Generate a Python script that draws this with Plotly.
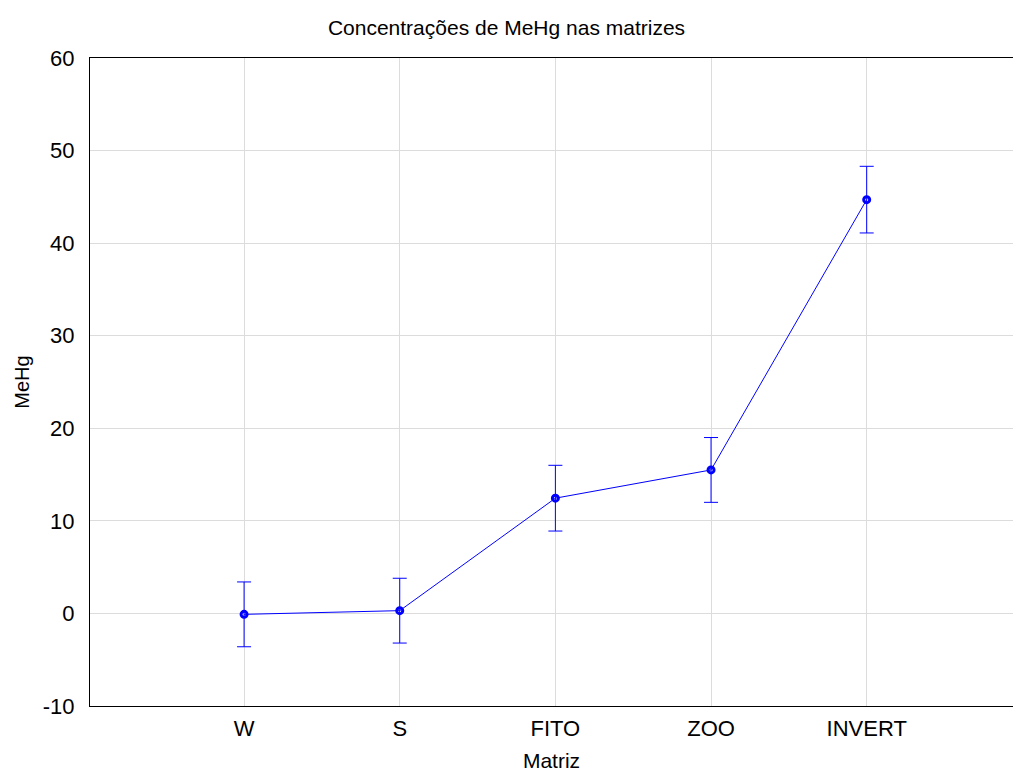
import plotly.graph_objects as go

categories = ["W", "S", "FITO", "ZOO", "INVERT"]
means = [-0.1, 0.3, 12.45, 15.5, 44.7]
errors = [3.5, 3.5, 3.55, 3.5, 3.6]
y_ticks = [-10, 0, 10, 20, 30, 40, 50, 60]
y_tick_labels = ["-10", "0", "10", "20", "30", "40", "50", "60"]

fig = go.Figure()
fig.add_trace(go.Scatter(
    x=list(range(len(categories))), y=means,
    mode="lines+markers",
    line=dict(color="#0000ff", width=1),
    marker=dict(symbol="circle-open", size=6, color="#0000ff", line=dict(width=3, color="#0000ff")),
    error_y=dict(type="data", array=errors, visible=True, color="#0000ff", thickness=1, width=7),
    showlegend=False,
))

font_family = "Liberation Sans, Arial, sans-serif"
fig.update_layout(
    width=1013, height=772, autosize=False,
    paper_bgcolor="white", plot_bgcolor="white",
    margin=dict(l=90, r=0, t=58, b=66),
    title=dict(text="Concentrações de MeHg nas matrizes", x=0.5, xanchor="center",
               y=1 - 28/772, yanchor="middle",
               font=dict(family=font_family, size=21, color="black")),
    font=dict(family=font_family, color="black"),
)
fig.update_xaxes(
    range=[-0.99, 4.94],
    tickmode="array", tickvals=list(range(len(categories))), ticktext=categories,
    showgrid=True, gridcolor="#dcdcdc", gridwidth=1,
    showline=True, linecolor="black", linewidth=1, mirror=True,
    ticks="outside", ticklen=3, tickcolor="rgba(0,0,0,0)",
    tickfont=dict(size=22, family=font_family, color="black"),
    title=dict(text="Matriz", font=dict(size=21, family=font_family, color="black"), standoff=14),
    zeroline=False,
)
fig.update_yaxes(
    range=[-10, 60], tickmode="array", tickvals=y_ticks, ticktext=y_tick_labels,
    showgrid=True, gridcolor="#dcdcdc", gridwidth=1,
    showline=True, linecolor="black", linewidth=1, mirror=False,
    ticks="outside", ticklen=10, tickcolor="rgba(0,0,0,0)",
    tickfont=dict(size=22, family=font_family, color="black"),
    title=dict(text="MeHg", font=dict(size=20, family=font_family, color="black"), standoff=7),
    zeroline=False,
)

post = ("document.body.style.margin='0';document.body.style.padding='0';"
        "document.body.style.overflow='hidden';"
        "var gd=document.getElementById('{plot_id}');"
        "Plotly.relayout(gd,{width:1013,height:772});")
fig.write_html("out.html", post_script=post,
               config={"responsive": False, "displayModeBar": False})
